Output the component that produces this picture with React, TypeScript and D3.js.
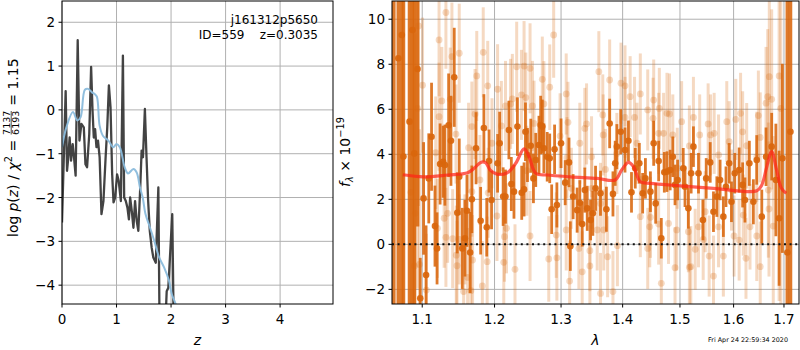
import React from 'react';
import * as d3 from 'd3';

// ---- left panel: redshift probability ----
const zGrid = [0, 0.067, 0.092, 0.11, 0.14, 0.166, 0.196, 0.22, 0.25, 0.288, 0.32, 0.356, 0.4, 0.43, 0.46, 0.5, 0.534, 0.56, 0.583, 0.607, 0.632, 0.66, 0.69, 0.724, 0.76, 0.8, 0.83, 0.86, 0.89, 0.92, 0.945, 0.975, 1.01, 1.04, 1.08, 1.117, 1.14, 1.17, 1.2, 1.227, 1.25, 1.28, 1.31, 1.34, 1.37, 1.4, 1.435, 1.46, 1.485, 1.52, 1.55, 1.58, 1.61, 1.645, 1.675, 1.72, 1.767, 1.8, 1.86, 1.92, 1.95, 2.022, 2.06];
const logPz = [-2.57, 0.43, -1.39, -1.16, -0.63, -1.16, -0.78, -1.08, -1.5, 1.59, -0.7, -0.32, -0.4, -1.24, -1.31, -0.55, 0.98, -0.02, -0.63, -0.44, -0.85, -0.7, -1.08, -2.38, -2.08, -1.08, -0.4, 0.56, 0.06, -1.47, -2.11, -2.0, -1.47, -1.62, -2.08, 1.24, -2.0, -2.08, -2.23, -2.5, -2.0, -2.31, -2.69, -2.08, -2.53, -2.76, -1.77, -0.93, -1.08, 0.02, -1.08, -2.08, -2.76, -3.15, -3.37, -3.49, -1.77, -6.5, -6, -4.14, -4.06, -2.38, -6];

const zSmooth = [0, 0.08, 0.2, 0.28, 0.34, 0.42, 0.48, 0.55, 0.6, 0.64, 0.69, 0.75, 0.85, 0.94, 1.0, 1.06, 1.15, 1.21, 1.31, 1.37, 1.43, 1.48, 1.53, 1.59, 1.69, 1.78, 1.87, 1.96, 2.01, 2.09, 2.15];
const logPzSmooth = [-0.85, -0.4, -0.05, -0.24, -0.17, 0.46, 0.48, 0.4, 0.36, 0.3, -0.36, -0.59, -0.7, -0.85, -0.78, -0.85, -1.31, -1.45, -1.35, -1.43, -1.77, -2.0, -2.37, -2.6, -2.98, -3.36, -3.59, -3.89, -4.19, -4.45, -4.7];

const zTicks = [0, 1, 2, 3, 4];
const pzTicks = [-4, -3, -2, -1, 0, 1, 2];

// ---- right panel: spectrum ----
const lamDark = [1.063, 1.0688, 1.0733, 1.0754, 1.0833, 1.0872, 1.0895, 1.0938, 1.0974, 1.1018, 1.1051, 1.1087, 1.1124, 1.117, 1.1198, 1.1239, 1.128, 1.1304, 1.1355, 1.1387, 1.1432, 1.1474, 1.1501, 1.1543, 1.158, 1.1608, 1.1653, 1.1677, 1.1736, 1.1801, 1.1847, 1.1888, 1.1921, 1.1957, 1.2044, 1.2074, 1.2125, 1.2159, 1.2209, 1.2245, 1.2284, 1.2335, 1.2399, 1.2434, 1.2455, 1.2485, 1.2535, 1.2575, 1.261, 1.2659, 1.2685, 1.271, 1.2734, 1.2785, 1.2824, 1.2854, 1.2899, 1.2935, 1.3, 1.3065, 1.3125, 1.3146, 1.319, 1.3254, 1.3297, 1.3335, 1.3377, 1.3416, 1.347, 1.3507, 1.3551, 1.3632, 1.3729, 1.3783, 1.3838, 1.3875, 1.3903, 1.3968, 1.404, 1.4098, 1.415, 1.4214, 1.4284, 1.4341, 1.4389, 1.4476, 1.4533, 1.4568, 1.462, 1.4667, 1.472, 1.4767, 1.4824, 1.4871, 1.4911, 1.4958, 1.5059, 1.5091, 1.5152, 1.5203, 1.5245, 1.5338, 1.542, 1.5481, 1.5556, 1.5617, 1.5681, 1.5742, 1.5804, 1.5854, 1.5915, 1.5959, 1.6022, 1.6107, 1.6175, 1.622, 1.6306, 1.6385, 1.6452, 1.6552, 1.6637, 1.675, 1.6835, 1.6901, 1.6968, 1.7069, 1.7133];
const fluxDark = [11.5, 8.27, 9.3, 3.9, 5.45, 9.52, 4.04, 7.79, -2.4, 2.04, -1.36, 2.93, 4.78, 0.81, -0.18, 3.57, 3.67, 3.52, 5.29, 4.6, 7.42, 1.4, 3.0, -0.18, 0.27, 1.49, -0.36, 2.0, 4.27, 1.05, 5.17, 0.76, 3.7, 1.97, 3.6, 4.49, 2.12, 2.12, 5.08, 2.68, 2.34, 5.23, 2.29, 2.44, 5.0, 3.97, 4.38, 2.93, 3.75, 4.41, 5.3, 5.23, 4.27, 3.89, 3.82, 1.56, 4.22, 1.75, 4.49, 2.74, 3.64, -0.08, 2.12, 1.52, 1.85, 0.9, 2.41, 1.6, 1.08, 1.38, 2.49, 2.27, 1.56, 5.37, 2.24, 3.6, 4.34, 5.0, 4.19, 4.6, 2.31, 3.38, 3.6, 2.27, 2.93, 2.34, 4.49, 1.82, 3.7, 0.27, 3.2, 3.23, 3.3, 3.89, 2.64, 2.86, 3.38, 2.56, 1.6, 3.16, 4.34, 3.16, 1.08, 2.93, 3.64, 1.45, 2.12, 2.86, 1.23, 2.56, 3.6, 1.89, 3.16, 3.3, 2.64, 1.97, 3.6, 1.89, 3.75, 1.23, 3.89, 4.34, 2.86, 1.16, 3.82, -0.36, 5.0];
const errDark = [20, 20, 20, 20, 20, 20, 20, 7, 1.8, 2.5, 2.2, 2.0, 2.4, 1.8, 1.6, 1.8, 1.6, 1.8, 2.3, 2.0, 2.2, 1.8, 1.7, 1.8, 1.7, 1.6, 1.8, 1.5, 1.6, 1.5, 1.5, 1.3, 1.4, 1.3, 1.3, 1.4, 1.3, 1.2, 1.3, 1.2, 1.2, 1.3, 1.2, 1.2, 1.3, 1.2, 1.2, 1.1, 1.2, 1.3, 1.3, 1.2, 1.1, 1.1, 1.1, 1.1, 1.1, 1.0, 1.1, 1.0, 1.1, 1.1, 1.0, 1.0, 1.0, 1.0, 1.0, 1.0, 0.9, 1.0, 1.0, 1.0, 1.0, 1.1, 1.0, 1.0, 1.0, 1.0, 1.0, 0.9, 0.9, 0.9, 0.9, 0.9, 0.9, 0.9, 1.0, 0.9, 0.9, 0.9, 0.9, 0.9, 0.9, 0.9, 0.9, 0.9, 0.9, 0.9, 0.9, 0.9, 0.9, 0.9, 0.9, 0.9, 0.9, 0.9, 0.9, 0.9, 0.9, 0.9, 0.9, 0.9, 0.9, 1.0, 1.0, 1.0, 1.0, 1.0, 1.1, 1.2, 1.3, 1.5, 2.5, 3.0, 4.2, 20, 20];

const lamLight = [1.0851, 1.0895, 1.0908, 1.0938, 1.0951, 1.0963, 1.1004, 1.1055, 1.118, 1.1203, 1.1225, 1.1225, 1.1262, 1.1294, 1.1318, 1.1318, 1.1341, 1.1377, 1.14, 1.141, 1.1456, 1.146, 1.147, 1.1501, 1.1501, 1.1562, 1.158, 1.1618, 1.1631, 1.1663, 1.1677, 1.1677, 1.1687, 1.1722, 1.1746, 1.1791, 1.1825, 1.1838, 1.1894, 1.1902, 1.1908, 1.1963, 1.2035, 1.2044, 1.2099, 1.2134, 1.2144, 1.2159, 1.2174, 1.2234, 1.226, 1.2299, 1.2324, 1.2395, 1.2434, 1.246, 1.2475, 1.2524, 1.2524, 1.256, 1.2584, 1.271, 1.2734, 1.2809, 1.2824, 1.2885, 1.2925, 1.2935, 1.2985, 1.3081, 1.3081, 1.3093, 1.3109, 1.3135, 1.3162, 1.3282, 1.3297, 1.3335, 1.3377, 1.3405, 1.3459, 1.3459, 1.3486, 1.3491, 1.3578, 1.3605, 1.3632, 1.3632, 1.3669, 1.3676, 1.3685, 1.3713, 1.3749, 1.3783, 1.3838, 1.3903, 1.3912, 1.3972, 1.404, 1.404, 1.4127, 1.4202, 1.4244, 1.4301, 1.4301, 1.4429, 1.4429, 1.4464, 1.4476, 1.4522, 1.4533, 1.462, 1.462, 1.4632, 1.4667, 1.4707, 1.4767, 1.4794, 1.4812, 1.4871, 1.4911, 1.4941, 1.4951, 1.503, 1.5152, 1.5171, 1.5171, 1.5197, 1.5245, 1.5277, 1.5338, 1.536, 1.5425, 1.5463, 1.5517, 1.5536, 1.5562, 1.5617, 1.563, 1.5713, 1.5713, 1.5804, 1.5869, 1.5915, 1.5959, 1.6008, 1.6042, 1.6107, 1.6135, 1.6175, 1.6187, 1.624, 1.6254, 1.6319, 1.6452, 1.6452, 1.6484, 1.6521, 1.6521, 1.6637, 1.6671, 1.6683, 1.6696, 1.6702, 1.675, 1.6782, 1.6901, 1.6935];
const fluxLight = [2.31, -0.96, 1.38, 6.04, 9.7, -0.89, 7.07, -2.03, 4.07, 0.71, 9.08, 5.67, 6.37, 1.16, 10.3, 0.31, 1.38, 6.44, 8.34, 0.25, 4.9, -0.48, -0.95, 8.49, 0.22, -2.1, 0.22, -1.47, 4.29, -2.06, 5.23, 2.34, -0.7, 5.79, 7.48, 2.86, -1.85, 8.53, -0.77, 7.04, 2.29, 4.49, 1.26, 6.89, 5.26, -0.8, 0.34, 6.15, 0.71, 6.24, 6.46, -1.11, 7.89, 6.64, 7.92, 6.52, 3.27, 7.82, 0.37, 6.15, 5.37, 7.33, 6.24, -0.65, 6.98, 9.3, 0.41, -0.6, 4.81, 6.68, 0.64, 3.85, 5.42, -1.63, 2.49, -0.18, 4.49, -1.22, 5.15, 5.35, -0.28, -0.96, 3.89, 2.49, 0.64, 7.67, 1.82, -2.18, 5.75, 4.86, 0.64, 3.33, -0.55, 7.3, -2.1, 4.04, -0.06, 7.16, 7.04, 5.64, 6.56, 5.64, 4.49, 6.68, 1.23, 5.97, -0.18, 0.78, 1.2, 5.6, 6.41, 4.93, 0.9, 6.04, -1.73, 4.93, 5.82, 0.93, 5.79, 4.86, -1.04, 0.64, 3.38, 5.45, 0.56, 4.37, -1.02, -0.99, 5.64, -0.22, 0.78, 4.86, 0.22, 1.45, 5.35, -0.52, 4.86, -1.41, 4.93, 3.97, 0.78, -0.52, 5.45, 4.56, 2.41, 0.37, 5.55, 0.19, 5.82, 5.0, 1.3, -0.62, 4.38, 0.78, 3.89, 0.37, 5.72, 4.75, -0.99, 6.27, 6.56, 2.41, 1.57, 7.45, 6.44, 0.81, 7.48, 6.04];
const errLight = [20, 20, 8, 8, 8, 6, 3, 2.5, 2.5, 2.2, 2.5, 2.4, 2.4, 2.2, 2.5, 2.2, 2.2, 2.3, 2.4, 2.2, 2.2, 2.2, 2.0, 2.2, 2.0, 2.2, 2.0, 2.2, 2.0, 2.0, 2.0, 2.0, 2.0, 2.0, 2.0, 2.0, 2.0, 2.0, 2.0, 2.0, 2.0, 2.0, 2.0, 2.0, 2.0, 2.0, 2.0, 2.0, 2.0, 2.0, 2.0, 2.0, 2.0, 2.0, 2.0, 2.0, 2.0, 2.0, 2.0, 2.0, 1.9, 1.9, 1.9, 1.9, 1.9, 1.9, 1.9, 1.9, 1.9, 1.8, 1.8, 1.8, 1.8, 1.8, 1.8, 1.8, 1.8, 1.8, 1.8, 1.8, 1.8, 1.8, 1.8, 1.8, 1.8, 1.8, 1.8, 1.8, 1.8, 1.8, 1.8, 1.8, 1.8, 1.8, 1.8, 1.8, 1.8, 1.8, 1.8, 1.8, 1.8, 1.8, 1.8, 1.8, 1.8, 1.8, 1.8, 1.8, 1.8, 1.8, 1.8, 1.8, 1.8, 1.8, 1.8, 1.8, 1.8, 1.8, 1.8, 1.8, 1.8, 1.8, 1.8, 1.8, 1.8, 1.8, 1.8, 1.8, 1.8, 1.8, 1.8, 1.8, 1.8, 1.8, 1.8, 1.8, 1.8, 1.8, 1.8, 1.8, 1.8, 1.8, 1.8, 1.8, 1.8, 1.8, 1.8, 1.8, 1.8, 1.8, 1.8, 1.8, 1.9, 1.9, 2.0, 2.0, 2.0, 2.0, 2.0, 2.5, 3, 3, 3, 3.5, 4, 4, 10, 10];

const lamModel = [1.0746, 1.1018, 1.1341, 1.1618, 1.1709, 1.1801, 1.187, 1.1939, 1.2035, 1.2185, 1.231, 1.2434, 1.2509, 1.261, 1.2785, 1.3146, 1.3578, 1.3875, 1.3983, 1.4098, 1.4185, 1.4301, 1.4476, 1.4998, 1.5617, 1.6452, 1.6552, 1.6652, 1.675, 1.685, 1.6948, 1.7047];
const fluxModel = [3.09, 3.0, 3.08, 3.18, 3.38, 3.64, 3.63, 3.3, 3.12, 3.18, 3.6, 4.24, 3.89, 3.16, 3.08, 3.0, 2.93, 2.86, 3.3, 3.64, 3.45, 2.78, 2.71, 2.6, 2.49, 2.38, 2.64, 3.45, 4.12, 3.3, 2.49, 2.27];

const lamTicks = [1.1, 1.2, 1.3, 1.4, 1.5, 1.6, 1.7];
const fluxTicks = [-2, 0, 2, 4, 6, 8, 10];

const FONT = 'DejaVu Sans, sans-serif';
const ORANGE = '#d9660c';
const GRID = '#b0b0b0';

const L = { x0: 62, x1: 333, y0: 1, y1: 304 };
const R = { x0: 392, x1: 799, y0: 1, y1: 304 };

const App = () => {
  const xz = d3.scaleLinear().domain([0, 4.97]).range([L.x0, L.x1]);
  const yz = d3.scaleLinear().domain([-4.43, 2.485]).range([L.y1, L.y0]);
  const xl = d3.scaleLog().domain([1.0607, 1.731]).range([R.x0, R.x1]);
  const yl = d3.scaleLinear().domain([-2.65, 10.81]).range([R.y1, R.y0]);

  const fmt = d3.format('');

  const pzLine = d3.line<number>().x((d, i) => xz(zGrid[i])).y(d => yz(d));
  const smoothLine = d3.line<number>().x((d, i) => xz(zSmooth[i])).y(d => yz(d)).curve(d3.curveCatmullRom.alpha(0.5));
  const modelLine = d3.line<number>().x((d, i) => xl(lamModel[i])).y(d => yl(d)).curve(d3.curveCatmullRom.alpha(0.5));

  return (
    <div style={{ position: 'absolute', left: 0, top: 0 }}>
      <svg width={800} height={350} style={{ display: 'block', fontFamily: FONT }}>
        <defs>
          <clipPath id="clipL"><rect x={L.x0} y={L.y0} width={L.x1 - L.x0} height={L.y1 - L.y0} /></clipPath>
          <clipPath id="clipR"><rect x={R.x0} y={R.y0} width={R.x1 - R.x0} height={R.y1 - R.y0} /></clipPath>
        </defs>
        <rect width={800} height={350} fill="#fff" />

        {/* left panel grid */}
        {zTicks.map(t => <line key={'gz' + t} x1={xz(t)} x2={xz(t)} y1={L.y0} y2={L.y1} stroke={GRID} strokeWidth={1} />)}
        {pzTicks.map(t => <line key={'gp' + t} x1={L.x0} x2={L.x1} y1={yz(t)} y2={yz(t)} stroke={GRID} strokeWidth={1} />)}

        <g clipPath="url(#clipL)">
          <path d={pzLine(logPz) || ''} fill="none" stroke="#333" strokeOpacity={0.92} strokeWidth={2.3} strokeLinejoin="round" />
          <path d={smoothLine(logPzSmooth) || ''} fill="none" stroke="#8bbcdc" strokeOpacity={0.95} strokeWidth={2} />
        </g>

        <rect x={L.x0} y={L.y0} width={L.x1 - L.x0} height={L.y1 - L.y0} fill="none" stroke="#000" strokeWidth={1} />
        {zTicks.map(t => (
          <g key={'tz' + t}>
            <line x1={xz(t)} x2={xz(t)} y1={L.y1} y2={L.y1 + 3.5} stroke="#000" />
            <text x={xz(t)} y={324} fontSize={13.5} textAnchor="middle">{fmt(t)}</text>
          </g>
        ))}
        {pzTicks.map(t => (
          <g key={'tp' + t}>
            <line x1={L.x0 - 3.5} x2={L.x0} y1={yz(t)} y2={yz(t)} stroke="#000" />
            <text x={L.x0 - 7} y={yz(t) + 5} fontSize={13.5} textAnchor="end">{fmt(t)}</text>
          </g>
        ))}
        <text x={(L.x0 + L.x1) / 2} y={345} fontSize={14} fontStyle="italic" textAnchor="middle">z</text>
        <text x={318} y={24} fontSize={12} textAnchor="end">j161312p5650</text>
        <text x={318} y={39} fontSize={12} textAnchor="end" style={{ whiteSpace: 'pre' }}>{'ID=559    z=0.3035'}</text>

        {/* left y label */}
        <g transform="translate(18,152) rotate(-90)" fontSize={14}>
          <text x={-85} y={0}>log</text>
          <text x={-59.6} y={0}><tspan fontStyle="italic">p</tspan>(<tspan fontStyle="italic">z</tspan>)</text>
          <text x={-27.8} y={0}>/</text>
          <text x={-18.6} y={0} fontStyle="italic">χ</text>
          <text x={-10.2} y={-6} fontSize={9.8}>2</text>
          <text x={0.5} y={0}>=</text>
          <text x={29.2} y={-8.5} fontSize={9.5} textAnchor="middle">7137</text>
          <line x1={17.5} x2={41} y1={-6.8} y2={-6.8} stroke="#000" strokeWidth={0.7} />
          <text x={29.2} y={0.8} fontSize={9.5} textAnchor="middle">6193</text>
          <text x={46.2} y={0}>=</text>
          <text x={62.4} y={0}>1.15</text>
        </g>

        {/* right panel grid */}
        {lamTicks.map(t => <line key={'gl' + t} x1={xl(t)} x2={xl(t)} y1={R.y0} y2={R.y1} stroke={GRID} strokeWidth={1} />)}
        {fluxTicks.map(t => <line key={'gf' + t} x1={R.x0} x2={R.x1} y1={yl(t)} y2={yl(t)} stroke={GRID} strokeWidth={1} />)}

        <g clipPath="url(#clipR)">
          {lamLight.map((l, i) => (
            <line key={'le' + i} x1={xl(l)} x2={xl(l)} y1={yl(fluxLight[i] - errLight[i])} y2={yl(fluxLight[i] + errLight[i])}
              stroke={ORANGE} strokeOpacity={0.25} strokeWidth={3} />
          ))}
          {lamLight.map((l, i) => (
            <circle key={'lm' + i} cx={xl(l)} cy={yl(fluxLight[i])} r={3.4} fill={ORANGE} fillOpacity={0.25} />
          ))}
          {lamDark.map((l, i) => (
            <line key={'de' + i} x1={xl(l)} x2={xl(l)} y1={yl(fluxDark[i] - errDark[i])} y2={yl(fluxDark[i] + errDark[i])}
              stroke={ORANGE} strokeOpacity={0.88} strokeWidth={errDark[i] > 5 ? 3.6 : 2.8} />
          ))}
          {lamDark.map((l, i) => (
            <circle key={'dm' + i} cx={xl(l)} cy={yl(fluxDark[i])} r={3.3} fill={ORANGE} fillOpacity={0.92} />
          ))}
          <line x1={R.x0} x2={R.x1} y1={yl(0)} y2={yl(0)} stroke="#111" strokeWidth={2} strokeDasharray="2,3.6" />
          <path d={modelLine(fluxModel) || ''} fill="none" stroke="#ff2418" strokeOpacity={0.72} strokeWidth={3.2} />
        </g>

        <rect x={R.x0} y={R.y0} width={R.x1 - R.x0} height={R.y1 - R.y0} fill="none" stroke="#000" strokeWidth={1} />
        {lamTicks.map(t => (
          <g key={'tl' + t}>
            <line x1={xl(t)} x2={xl(t)} y1={R.y1} y2={R.y1 + 3.5} stroke="#000" />
            <text x={xl(t)} y={324} fontSize={13.5} textAnchor="middle">{d3.format('.1f')(t)}</text>
          </g>
        ))}
        {fluxTicks.map(t => (
          <g key={'tf' + t}>
            <line x1={R.x0 - 3.5} x2={R.x0} y1={yl(t)} y2={yl(t)} stroke="#000" />
            <text x={R.x0 - 7} y={yl(t) + 5} fontSize={13.5} textAnchor="end">{fmt(t)}</text>
          </g>
        ))}
        <text x={(R.x0 + R.x1) / 2} y={345} fontSize={14} fontStyle="italic" textAnchor="middle">λ</text>
        <g transform="translate(350,152) rotate(-90)" fontSize={14}>
          <text x={0} y={0} textAnchor="middle">
            <tspan fontStyle="italic">f</tspan>
            <tspan fontSize={9.8} fontStyle="italic" dy={2.5}>λ</tspan>
            <tspan dy={-2.5}>{' × 10'}</tspan>
            <tspan fontSize={9.8} dy={-6}>−19</tspan>
          </text>
        </g>
        <text x={788} y={342} fontSize={6.4} textAnchor="end">Fri Apr 24 22:59:34 2020</text>
      </svg>
    </div>
  );
};

export default App;
